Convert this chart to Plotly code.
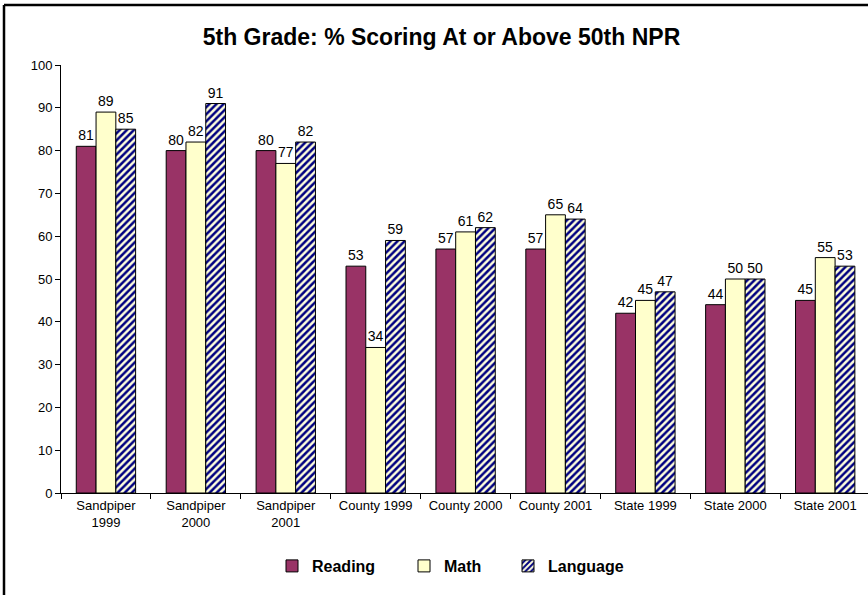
import plotly.graph_objects as go

categories = ["Sandpiper<br>1999", "Sandpiper<br>2000", "Sandpiper<br>2001",
              "County 1999", "County 2000", "County 2001",
              "State 1999", "State 2000", "State 2001"]
reading = [81, 80, 80, 53, 57, 57, 42, 44, 45]
math = [89, 82, 77, 34, 61, 65, 45, 50, 55]
language = [85, 91, 82, 59, 62, 64, 47, 50, 53]

FONT = "Liberation Sans, Arial, sans-serif"
LBL = dict(size=14, color="black", family=FONT)

fig = go.Figure()
fig.add_trace(go.Bar(name="Reading", x=categories, y=reading, legend="legend",
                     marker=dict(color="#993366", line=dict(color="black", width=1)),
                     text=reading, textposition="outside", cliponaxis=False, textfont=LBL))
fig.add_trace(go.Bar(name="Math", x=categories, y=math, legend="legend2",
                     marker=dict(color="#FFFFCC", line=dict(color="black", width=1)),
                     text=math, textposition="outside", cliponaxis=False, textfont=LBL))
fig.add_trace(go.Bar(name="Language", x=categories, y=language, legend="legend3",
                     marker=dict(color="#000080", line=dict(color="black", width=1),
                                 pattern=dict(shape="/", fgcolor="#FFFFDD", bgcolor="#000080",
                                              size=5, solidity=0.5, fillmode="replace")),
                     text=language, textposition="outside", cliponaxis=False, textfont=LBL))

L, T, B = 61, 65, 102
W, H = 868, 595
pw = W - L
ph = H - T - B

LEG_FONT = dict(size=16, family=FONT, color="black", weight="bold")
leg_y = (493 - 566) / ph


def leg(px):
    return dict(orientation="h", x=(px - L) / pw, xanchor="left", y=leg_y, yanchor="middle",
                font=LEG_FONT, itemwidth=30, bgcolor="rgba(0,0,0,0)", borderwidth=0)


fig.update_layout(
    width=W, height=H,
    margin=dict(l=L, r=0, t=T, b=B),
    paper_bgcolor="white", plot_bgcolor="white",
    barmode="group", bargap=0.34, bargroupgap=0,
    font=dict(family=FONT, size=13, color="black"),
    title=dict(text="<b>5th Grade: % Scoring At or Above 50th NPR</b>",
               x=441.5 / W, xanchor="center", y=1 - 37 / H, yanchor="middle",
               font=dict(size=23, family=FONT, color="black")),
    legend=leg(272),
    legend2=leg(404),
    legend3=leg(508),
    showlegend=True,
)
fig.update_xaxes(range=[-0.5, 8.476], showline=True, linecolor="black", linewidth=1,
                 ticks="outside", tickson="boundaries", ticklen=5, tickcolor="black",
                 showgrid=False, tickfont=dict(size=13, family=FONT))
fig.update_yaxes(range=[0, 100], dtick=10, showline=True, linecolor="black", linewidth=1,
                 ticks="outside", ticklen=5, tickcolor="black", showgrid=False,
                 zeroline=False, tickfont=dict(size=13, family=FONT))

# outer chart frame (top and left edges; right/bottom lie outside the view)
x_left = (4 - L) / pw
y_top = 1 + (T - 5) / ph
fig.add_shape(type="line", xref="paper", yref="paper",
              x0=x_left, x1=1.05, y0=y_top, y1=y_top,
              line=dict(color="black", width=2.5), layer="above")
fig.add_shape(type="line", xref="paper", yref="paper",
              x0=x_left, x1=x_left, y0=-0.3, y1=y_top,
              line=dict(color="black", width=2.5), layer="above")

fig.write_html("out.html", config={"displayModeBar": False},
               post_script="document.body.style.margin='0';document.body.style.padding='0';")
